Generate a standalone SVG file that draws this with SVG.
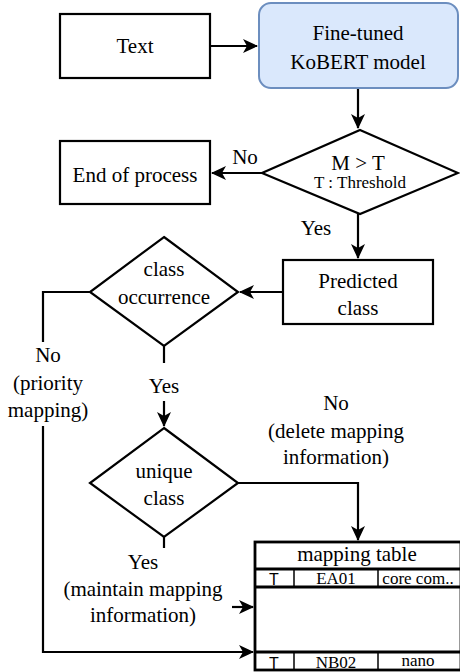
<svg xmlns="http://www.w3.org/2000/svg" width="460" height="672" viewBox="0 0 460 672">
<style>
text{font-family:"Liberation Serif","Times New Roman",serif;font-size:21px;fill:#000;text-anchor:middle}
.sm{font-size:17px}
.sans{font-family:"Liberation Sans",Arial,sans-serif;font-size:16px}
.box{fill:#fff;stroke:#000;stroke-width:2.2}
.edge{fill:none;stroke:#000;stroke-width:2.2}
.tbl{fill:none;stroke:#000;stroke-width:2.8}
.thin{fill:none;stroke:#000;stroke-width:1.5}
</style>
<defs>
<marker id="arr" markerUnits="userSpaceOnUse" markerWidth="16" markerHeight="14" refX="14" refY="7" orient="auto">
<path d="M0,0 L15,7 L0,14 L4,7 Z" fill="#000"/>
</marker>
</defs>
<g id="connectors">
<path class="edge" d="M210,46 L257,46" marker-end="url(#arr)"/>
<path class="edge" d="M358,88 L358,128" marker-end="url(#arr)"/>
<path class="edge" d="M262,173 L212,173" marker-end="url(#arr)"/>
<path class="edge" d="M358,214 L358,258" marker-end="url(#arr)"/>
<path class="edge" d="M283,292 L240,292" marker-end="url(#arr)"/>
<path class="edge" d="M90,292 L43,292 L43,342"/>
<path class="edge" d="M43,426 L43,652 L253,652" marker-end="url(#arr)"/>
<path class="edge" d="M164,346 L164,363"/>
<path class="edge" d="M164,401 L164,426" marker-end="url(#arr)"/>
<path class="edge" d="M238,483 L358,483 L358,540" marker-end="url(#arr)"/>
<path class="edge" d="M164,537 L164,548"/>
<path class="edge" d="M232,607 L253,607" marker-end="url(#arr)"/>
</g>
<g id="text-node">
<rect class="box" x="60" y="14" width="150" height="64"/>
<text x="135" y="53">Text</text>
</g>
<g id="kobert">
<rect x="259" y="3" width="199" height="85" rx="12" fill="#dae8fc" stroke="#6c8ebf" stroke-width="2"/>
<text x="358" y="40">Fine-tuned</text>
<text x="358" y="69">KoBERT model</text>
</g>
<g id="threshold">
<polygon class="box" points="360,130 458,173 360,214 262,173"/>
<text x="358" y="170">M &gt; T</text>
<text class="sm" x="360" y="188">T : Threshold</text>
</g>
<g id="end">
<rect class="box" x="60" y="141" width="150" height="63"/>
<text x="135" y="182">End of process</text>
</g>
<g id="predicted">
<rect class="box" x="283" y="260" width="150" height="64"/>
<text x="358" y="288">Predicted</text>
<text x="358" y="315">class</text>
</g>
<g id="occurrence">
<polygon class="box" points="164,237 238,292 164,346 90,292"/>
<text x="164" y="276">class</text>
<text x="164" y="304">occurrence</text>
</g>
<g id="unique">
<polygon class="box" points="164,428 238,483 164,537 90,483"/>
<text x="164" y="478">unique</text>
<text x="164" y="505">class</text>
</g>
<g id="labels">
<text x="245" y="164">No</text>
<text x="316" y="235">Yes</text>
<text x="48" y="362">No</text>
<text x="48" y="390">(priority</text>
<text x="48" y="417">mapping)</text>
<text x="164" y="393">Yes</text>
<text x="336" y="410">No</text>
<text x="336" y="438">(delete mapping</text>
<text x="336" y="464">information)</text>
<text x="143" y="569">Yes</text>
<text x="143" y="596">(maintain mapping</text>
<text x="143" y="622">information)</text>
</g>
<g id="mapping-table">
<rect x="255" y="542" width="204" height="128" fill="#fff" stroke="none"/>
<line class="tbl" x1="255" y1="569" x2="460" y2="569"/>
<line class="tbl" x1="255" y1="587" x2="460" y2="587"/>
<line class="tbl" x1="255" y1="652" x2="460" y2="652"/>
<line class="thin" x1="294" y1="569" x2="294" y2="587"/>
<line class="thin" x1="378" y1="569" x2="378" y2="587"/>
<line class="thin" x1="294" y1="652" x2="294" y2="670"/>
<line class="thin" x1="378" y1="652" x2="378" y2="670"/>
<rect class="tbl" x="255" y="542" width="206" height="128"/>
<text x="357" y="561">mapping table</text>
<text class="sans" x="274" y="585">T</text>
<text class="sm" x="336" y="584">EA01</text>
<text class="sm" x="418" y="584">core com..</text>
<text class="sans" x="274" y="669">T</text>
<text class="sm" x="336" y="668">NB02</text>
<text class="sm" x="418" y="666">nano</text>
</g>
</svg>
